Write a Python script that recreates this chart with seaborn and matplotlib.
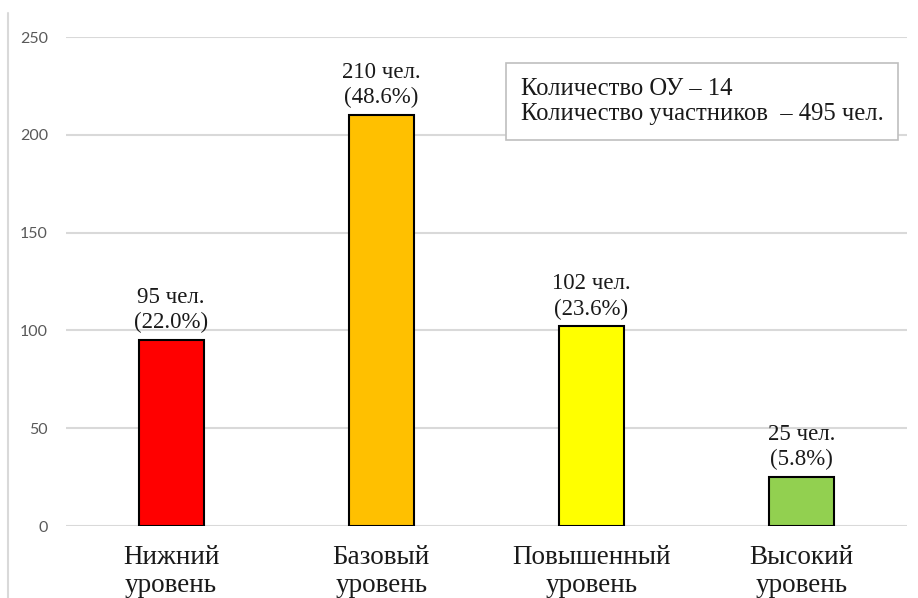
import matplotlib
matplotlib.use("Agg")
import matplotlib.pyplot as plt
import matplotlib.transforms as mtransforms
import seaborn as sns
import pandas as pd
from matplotlib.lines import Line2D

# chart data
categories = ["Нижний\nуровень", "Базовый\nуровень", "Повышенный\nуровень", "Высокий\nуровень"]
counts = [95, 210, 102, 25]
percents = [22.0, 48.6, 23.6, 5.8]
bar_colors = ["#FF0000", "#FFC000", "#FFFF00", "#92D050"]
info_lines = ["Количество ОУ – 14", "Количество участников  – 495 чел."]
y_ticks = [0, 50, 100, 150, 200, 250]


def main():
    sns.set_theme(style="white")
    plt.rcParams["font.family"] = ["Liberation Serif", "DejaVu Serif"]

    df = pd.DataFrame({"level": categories, "count": counts})

    fig = plt.figure(figsize=(9.18, 5.98), dpi=100)
    ax = fig.add_axes([0.0719, 0.1204, 0.916, 0.8177])

    sns.barplot(data=df, x="level", y="count", hue="level", palette=bar_colors,
                saturation=1, width=0.31, edgecolor="black", linewidth=1.5,
                legend=False, ax=ax, zorder=3)

    ax.set_ylim(0, 250)
    ax.set_xlim(-0.5, 3.5)
    ax.set_yticks(y_ticks)
    ax.set_yticklabels([str(t) for t in y_ticks], fontfamily="Lato",
                       color="#595959", fontsize=11.5)
    ax.tick_params(axis="y", length=0, pad=13)
    ax.tick_params(axis="x", length=0, pad=14, labelsize=19.5, labelcolor="#1a1a1a")
    for lbl in ax.get_xticklabels():
        lbl.set_linespacing(1.15)
    ax.set_xlabel("")
    ax.set_ylabel("")
    ax.yaxis.grid(True, color="#d9d9d9", linewidth=1.5, zorder=0)
    for side in ax.spines.values():
        side.set_visible(False)

    # value labels above bars
    for i, (c, p) in enumerate(zip(counts, percents)):
        ax.annotate(f"{c} чел.\n({p:.1f}%)", xy=(i, c), xytext=(0, 5),
                    textcoords="offset points", ha="center", va="bottom",
                    fontsize=16.5, color="#1a1a1a", linespacing=1.25)

    # info box
    trans = mtransforms.blended_transform_factory(ax.transAxes, ax.transData)
    ax.text(0.541, 217, "\n".join(info_lines), transform=trans,
            ha="left", va="center", fontsize=17.7, color="#1a1a1a", linespacing=1.2,
            bbox=dict(boxstyle="square,pad=0.6", facecolor="white", edgecolor="#bfbfbf",
                      linewidth=1.2), zorder=5)

    # chart border fragment on the left
    fig.add_artist(Line2D([8 / 918, 8 / 918], [0, 1 - 13 / 598], transform=fig.transFigure,
                          color="#d9d9d9", linewidth=1.5))

    fig.savefig("out.png", dpi=100, facecolor="white")


if __name__ == "__main__":
    main()
